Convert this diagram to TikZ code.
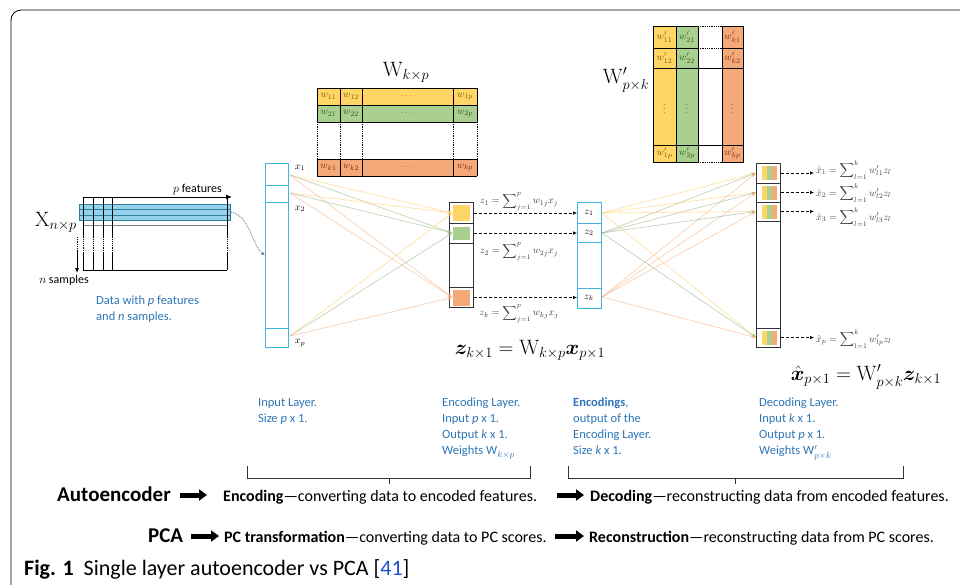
\documentclass[tikz,border=0pt]{standalone}
\usepackage{amsmath,bm}
\usepackage[no-math]{fontspec}
\setmainfont{Carlito}
\usetikzlibrary{arrows.meta}
\definecolor{lblue}{RGB}{46,117,182}
\definecolor{cyanb}{RGB}{64,182,222}
\definecolor{wyel}{RGB}{255,214,102}
\definecolor{wgrn}{RGB}{169,208,142}
\definecolor{wora}{RGB}{244,170,120}
\definecolor{tyel}{RGB}{120,85,0}
\definecolor{tgrn}{RGB}{40,90,20}
\definecolor{tora}{RGB}{120,40,10}
\definecolor{band}{RGB}{150,210,235}
\definecolor{eqc}{RGB}{60,60,60}
\definecolor{refblue}{RGB}{30,80,200}
\begin{document}
\begin{tikzpicture}[x=1pt,y=-1pt,
  lbl/.style={font=\fontsize{12.5}{16}\selectfont, text=lblue, align=left, anchor=north west, inner sep=0pt},
  layerc/.style={draw=cyanb, line width=1pt, anchor=north west, inner sep=0pt},
  layerk/.style={draw=black!80, line width=1pt, anchor=north west, inner sep=0pt},
  conn/.style={line width=0.7pt, opacity=0.55, -{Stealth[length=5pt,width=4pt]}},
  dotarr/.style={densely dashed, line width=0.6pt, -{Latex[length=4pt,width=3.5pt]}},
  eqs/.style={font=\fontsize{10}{11}\selectfont, text=eqc, inner sep=0pt},
  cellt/.style={font=\fontsize{10}{11}\selectfont, inner sep=0pt},
  bigarr/.style={line width=5pt, -{Triangle[length=8pt,width=11pt]}},
  bot/.style={font=\fontsize{16}{18}\selectfont, anchor=base west, inner sep=0pt},
  botb/.style={font=\fontsize{21}{24}\selectfont\bfseries, anchor=base west, inner sep=0pt},
  mlab/.style={font=\fontsize{22}{26}\selectfont, inner sep=0pt},
]
\useasboundingbox (0,0) rectangle (960,584);
% frame
\draw[line width=0.8pt, rounded corners=10pt] (11,590) -- (11,10) -- (965,10);
% caption
\node[anchor=base west, inner sep=0pt, font=\fontsize{22}{26}\selectfont] (cap) at (24,575) {\textbf{Fig. 1}\ \ Single layer autoencoder vs PCA [\textcolor{refblue}{41}]};

% ---------------- data matrix
\fill[band] (79,204) rectangle (230,220);
\draw[cyanb!70!black, line width=0.4pt] (79,204) rectangle (230,220);
\draw[cyanb!70!black, line width=0.4pt] (79,209)--(230,209) (79,215)--(230,215);
\draw[line width=1pt] (83,270) -- (227,270);
\draw[gray, line width=0.6pt] (83,225) -- (227,225);
\foreach \xx in {83,93,103,112,227}{
  \draw[line width=0.9pt] (\xx,198) -- (\xx,237);
  \draw[line width=0.9pt, densely dotted] (\xx,237) -- (\xx,253);
  \draw[line width=0.9pt] (\xx,253) -- (\xx,270);
}
\draw[line width=1pt, -{Latex[length=6pt,width=5pt]}] (83,197) -- (232,197);
\node[font=\fontsize{12}{14}\selectfont, anchor=base east, inner sep=0pt] (pf) at (222,192) {$p$ features};
\draw[line width=0.8pt, densely dotted] (77,237) -- (77,250);
\draw[line width=0.8pt, -{Latex[length=5pt,width=4pt]}] (77,250) -- (77,273);
\node[font=\fontsize{12}{14}\selectfont, anchor=base, inner sep=0pt] (ns) at (64,283) {$n$ samples};
\node[font=\fontsize{20}{24}\selectfont, inner sep=0pt] (xlab) at (56,222) {$\mathrm{X}_{n\times p}$};
\node[lbl] (dlab) at (96,296) {Data with \textit{p} features\\and \textit{n} samples.};
\coordinate (bandend) at (231,212);

% ---------------- input layer
\node[layerc, minimum width=23pt, minimum height=184pt] (inl) at (265,163) {};
\draw[cyanb, line width=1pt] (265,185)--(288,185) (265,202)--(288,202) (265,328)--(288,328);
\node[eqs, text=black] (lx1) at (300,168) {$x_1$};
\node[eqs, text=black] (lx2) at (300,209) {$x_2$};
\node[eqs, text=black] (lxp) at (300,343) {$x_p$};
\coordinate (x1o) at (290,175);
\coordinate (x2o) at (290,193);
\coordinate (xpo) at (290,336);
\draw[gray, densely dotted, line width=0.9pt, -{Latex[length=4pt,width=3.5pt]}] (bandend) .. controls (250,216) and (252,245) .. (inl.west);

% ---------------- encoding layer
\node[layerk, minimum width=24pt, minimum height=105pt] (enc) at (449,202) {};
\node[fill=wyel, minimum width=17pt, minimum height=16pt, inner sep=0pt] (e1) at (461,213) {};
\node[fill=wgrn, minimum width=17pt, minimum height=13pt, inner sep=0pt] (e2) at (461,233) {};
\node[fill=wora, minimum width=17pt, minimum height=16pt, inner sep=0pt] (ek) at (461,297.5) {};
\draw[black!80, line width=1pt] (449,223.5)--(473,223.5) (449,243)--(473,243) (449,287)--(473,287);

\foreach \s in {x1o,x2o,xpo}{
  \draw[conn, wyel!85!orange] (\s) -- (e1.west);
  \draw[conn, wgrn!85!black] (\s) -- (e2.west);
  \draw[conn, wora] (\s) -- (ek.west);
}

% ---------------- encodings
\node[layerc, minimum width=24pt, minimum height=106pt] (encs) at (577,202) {};
\draw[cyanb, line width=1pt] (577,223)--(601,223) (577,242)--(601,242) (577,288)--(601,288);
\node[eqs, text=black] (z1) at (589,213) {$z_1$};
\node[eqs, text=black] (z2) at (589,233) {$z_2$};
\node[eqs, text=black] (zk) at (589,298) {$z_k$};
\draw[dotarr] (e1 -| enc.east) -- (e1 -| encs.west);
\draw[dotarr] (e2 -| enc.east) -- (e2 -| encs.west);
\draw[dotarr] (ek -| enc.east) -- (ek -| encs.west);
\node[eqs] (eqz1) at (519,202) {$z_1=\displaystyle\sum\nolimits_{j=1}^{p} w_{1j}x_j$};
\node[eqs] (eqz2) at (519,252) {$z_2=\displaystyle\sum\nolimits_{j=1}^{p} w_{2j}x_j$};
\node[eqs] (eqzk) at (519,314) {$z_k=\displaystyle\sum\nolimits_{j=1}^{p} w_{kj}x_j$};
\coordinate (z1o) at (602,213);
\coordinate (z2o) at (602,233);
\coordinate (zko) at (602,297);

% ---------------- decoding layer
\node[layerk, minimum width=24pt, minimum height=184pt] (dec) at (756,163) {};
\draw[black!80, line width=1pt] (756,183)--(780,183) (756,202)--(780,202) (756,221)--(780,221) (756,328)--(780,328);
\foreach \cy/\nm in {173/d1,192.5/d2,211.5/d3,337.5/dp}{
  \fill[wyel] (762,\cy-7) rectangle (767,\cy+7);
  \fill[wgrn] (767,\cy-7) rectangle (772,\cy+7);
  \fill[wora] (772,\cy-7) rectangle (777,\cy+7);
  \node[inner sep=0pt, minimum width=15pt, minimum height=14pt] (\nm) at (769.5,\cy) {};
}
\foreach \t in {d1,d2,d3,dp}{
  \draw[conn, wyel!85!orange] (z1o) -- (\t -| dec.west);
  \draw[conn, wgrn!85!black] (z2o) -- (\t -| dec.west);
  \draw[conn, wora] (zko) -- (\t -| dec.west);
}
\node[eqs, anchor=west] (q1) at (816,170) {$\hat{x}_1=\displaystyle\sum\nolimits_{l=1}^{k} w'_{l1}z_l$};
\node[eqs, anchor=west] (q2) at (816,193) {$\hat{x}_2=\displaystyle\sum\nolimits_{l=1}^{k} w'_{l2}z_l$};
\node[eqs, anchor=west] (q3) at (816,217) {$\hat{x}_3=\displaystyle\sum\nolimits_{l=1}^{k} w'_{l3}z_l$};
\node[eqs, anchor=west] (qp) at (816,339) {$\hat{x}_p=\displaystyle\sum\nolimits_{l=1}^{k} w'_{lp}z_l$};
\draw[dotarr, shorten >=2pt] (d1 -| dec.east) -- (d1 -| q1.west);
\draw[dotarr, shorten >=2pt] (d2 -| dec.east) -- (d2 -| q2.west);
\draw[dotarr, shorten >=2pt] (d3 -| dec.east) -- (d3 -| q3.west);
\draw[dotarr, shorten >=2pt] (dp -| dec.east) -- (dp -| qp.west);

% big equations
\node[font=\fontsize{20}{24}\selectfont, inner sep=0pt] (eqenc) at (530,350) {$\bm{z}_{k\times1}=\mathrm{W}_{k\times p}\bm{x}_{p\times1}$};
\node[font=\fontsize{20}{24}\selectfont, inner sep=0pt] (eqdec) at (866,377) {$\hat{\bm{x}}_{p\times1}=\mathrm{W}'_{p\times k}\bm{z}_{k\times1}$};

% ---------------- W k x p
\fill[wyel] (317,88) rectangle (477,105);
\fill[wgrn] (317,105) rectangle (477,122);
\fill[wora] (317,159) rectangle (477,176);
\draw[line width=0.8pt] (317,88)--(477,88) (317,105)--(477,105) (317,122)--(477,122) (317,159)--(477,159) (317,176)--(477,176);
\foreach \xx in {317,340,362,453,477}{
  \draw[line width=0.8pt] (\xx,88)--(\xx,122) (\xx,159)--(\xx,176);
  \draw[line width=0.8pt, densely dotted] (\xx,122)--(\xx,159);
}
\node[mlab] (wlab) at (406,72) {$\mathrm{W}_{k\times p}$};
\foreach \ry/\r/\tc in {96.5/1/tyel,113.5/2/tgrn,167.5/k/tora}{
  \node[cellt, text=\tc] at (328.5,\ry) {$w_{\r1}$};
  \node[cellt, text=\tc] at (351,\ry) {$w_{\r2}$};
  \node[cellt, text=\tc!70] at (407.5,\ry) {$\cdots$};
  \node[cellt, text=\tc] at (465,\ry) {$w_{\r p}$};
}

% ---------------- W' p x k
\fill[wyel] (653,26) rectangle (676,162);
\fill[wgrn] (676,26) rectangle (698,162);
\fill[wora] (722,26) rectangle (743,162);
\draw[line width=0.8pt] (653,26) rectangle (698,162);
\draw[line width=0.8pt] (722,26) rectangle (743,162);
\draw[line width=0.6pt] (676,26)--(676,162);
\draw[line width=0.8pt] (653,48)--(698,48) (722,48)--(743,48);
\draw[line width=0.8pt] (653,68)--(743,68) (653,145)--(743,145);
\draw[line width=0.8pt, densely dotted] (698,26)--(722,26) (698,48)--(722,48) (698,162)--(722,162);
\node[mlab] (wplab) at (626,80) {$\mathrm{W}'_{p\times k}$};
\foreach \ry/\c in {37/1,58/2,153.5/p}{
  \node[cellt, text=tyel] at (664.5,\ry) {$w'_{1\c}$};
  \node[cellt, text=tgrn] at (687,\ry) {$w'_{2\c}$};
  \node[cellt, text=tora] at (732.5,\ry) {$w'_{k\c}$};
}
\node[cellt, text=tyel!70] at (664.5,106) {$\vdots$};
\node[cellt, text=tgrn!70] at (687,106) {$\vdots$};
\node[cellt, text=tora!70] at (732.5,106) {$\vdots$};

% ---------------- blue labels
\node[lbl] (ilbl) at (258,398) {Input Layer.\\Size \textit{p} x 1.};
\node[lbl] (elbl) at (442,398) {Encoding Layer.\\Input \textit{p} x 1.\\Output \textit{k} x 1.\\Weights W$_{k\times p}$};
\node[lbl] (zlbl) at (573,398) {\textbf{Encodings},\\output of the\\Encoding Layer.\\Size \textit{k} x 1.};
\node[lbl] (dlbl) at (759,398) {Decoding Layer.\\Input \textit{k} x 1.\\Output \textit{p} x 1.\\Weights W$'_{p\times k}$};

% brackets
\draw[black!80, line width=0.8pt] (247,466) -- (247,478) -- (530,478) -- (530,466) (389,478) -- (389,484);
\draw[black!80, line width=0.8pt] (568,466) -- (568,478) -- (903,478) -- (903,466) (735,478) -- (735,484);

% bottom rows
\node[botb] (ae) at (57,501) {Autoencoder};
\node[bot] (aeenc) at (223,501) {\textbf{Encoding}---converting data to encoded features.};
\node[bot] (aedec) at (590,501) {\textbf{Decoding}---reconstructing data from encoded features.};
\draw[bigarr] ([shift={(9pt,6pt)}]ae.base east) -- ([shift={(-16pt,6pt)}]aeenc.base west);
\draw[bigarr] ([shift={(20pt,6pt)}]aeenc.base east) -- ([shift={(-6pt,6pt)}]aedec.base west);
\node[botb] (pca) at (148,542) {PCA};
\node[bot] (pcat) at (224,542) {\textbf{PC transformation}---converting data to PC scores.};
\node[bot] (pcar) at (589,542) {\textbf{Reconstruction}---reconstructing data from PC scores.};
\draw[bigarr] ([shift={(8pt,6pt)}]pca.base east) -- ([shift={(-5pt,6pt)}]pcat.base west);
\draw[bigarr] ([shift={(8pt,6pt)}]pcat.base east) -- ([shift={(-5pt,6pt)}]pcar.base west);
\end{tikzpicture}
\end{document}
